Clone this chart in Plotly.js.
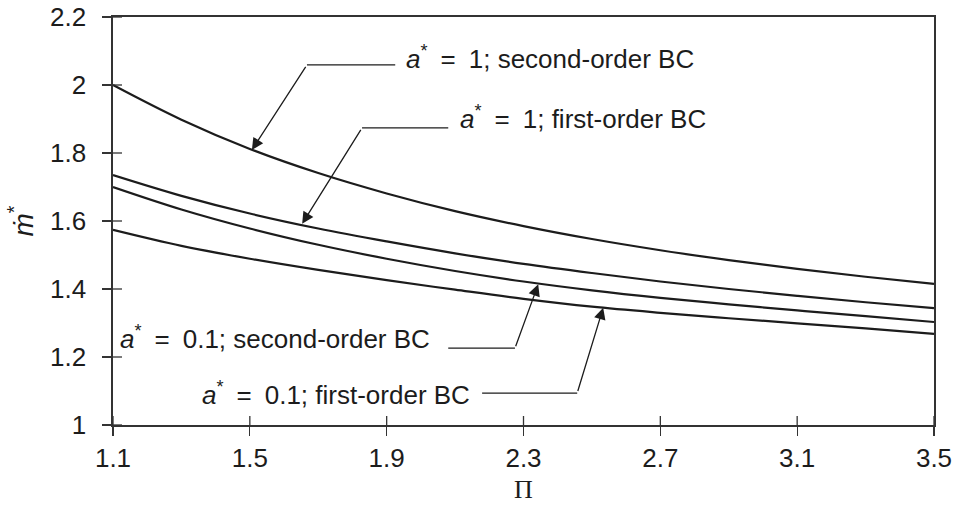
<!DOCTYPE html>
<html>
<head>
<meta charset="utf-8">
<script src="https://cdn.plot.ly/plotly-3.0.1.min.js"></script>
<style>
  html, body { margin: 0; padding: 0; background: #fff; }
  #chart { width: 956px; height: 506px; }
</style>
</head>
<body>
<div id="chart"></div>
<script>
// values
let piValues = [1.1, 1.3, 1.5, 1.7, 1.9, 2.1, 2.3, 2.5, 2.7, 2.9, 3.1, 3.3, 3.5];
let mA1Second = [2.000, 1.898, 1.812, 1.741, 1.681, 1.629, 1.585, 1.547, 1.514, 1.485, 1.459, 1.436, 1.415];
let mA1First = [1.735, 1.674, 1.622, 1.578, 1.540, 1.505, 1.474, 1.447, 1.422, 1.400, 1.380, 1.361, 1.344];
let mA01Second = [1.700, 1.634, 1.578, 1.530, 1.489, 1.453, 1.422, 1.396, 1.374, 1.355, 1.337, 1.320, 1.303];
let mA01First = [1.574, 1.527, 1.489, 1.456, 1.426, 1.398, 1.371, 1.348, 1.330, 1.314, 1.299, 1.284, 1.268];

let xTicks = [1.1, 1.5, 1.9, 2.3, 2.7, 3.1, 3.5];
let yTicks = [1, 1.2, 1.4, 1.6, 1.8, 2, 2.2];
let yTickText = ["1", "1.2", "1.4", "1.6", "1.8", "2", "2.2"];

let sp = "\u2002";
let labels = [
    "<i>a</i><sup>*</sup>" + sp + "=" + sp + "1; second-order BC",
    "<i>a</i><sup>*</sup>" + sp + "=" + sp + "1; first-order BC",
    "<i>a</i><sup>*</sup>" + sp + "=" + sp + "0.1; second-order BC",
    "<i>a</i><sup>*</sup>" + sp + "=" + sp + "0.1; first-order BC"
];

let font = "Liberation Sans, Arial, Helvetica, sans-serif";
let ink = "#1c1c1c";
let axisInk = "#333";

function curve(y) {
    return {
        x: piValues,
        y: y,
        type: "scatter",
        mode: "lines",
        line: {color: ink, width: 2.2, shape: "spline", smoothing: 1},
        hoverinfo: "skip",
        showlegend: false
    };
}

let traces = [curve(mA1Second), curve(mA1First), curve(mA01Second), curve(mA01First)];

// leader lines: text anchor, bend point, elbow end, arrow tip (on the curve)
let leaders = [
    {tx: 1.951, ty: 2.082, hx0: 1.667, hx1: 1.925, hy: 2.059, tipX: 1.506, tipY: 1.809},
    {tx: 2.109, ty: 1.903, hx0: 1.828, hx1: 2.080, hy: 1.874, tipX: 1.653, tipY: 1.592},
    {tx: 1.115, ty: 1.256, hx0: 2.275, hx1: 2.080, hy: 1.226, tipX: 2.343, tipY: 1.414},
    {tx: 1.354, ty: 1.094, hx0: 2.457, hx1: 2.179, hy: 1.094, tipX: 2.533, tipY: 1.345}
];

let annotations = [];
let shapes = [];
for (let i = 0; i < leaders.length; i++) {
    let l = leaders[i];
    annotations.push({
        x: l.tx, y: l.ty, xref: "x", yref: "y",
        text: labels[i], showarrow: false,
        xanchor: "left", yanchor: "middle",
        font: {family: font, size: 26, color: ink}
    });
    annotations.push({
        x: l.tipX, y: l.tipY, xref: "x", yref: "y",
        ax: l.hx0, ay: l.hy, axref: "x", ayref: "y",
        text: " ", font: {size: 1},
        showarrow: true, arrowhead: 2, arrowsize: 1.8, arrowwidth: 1.3,
        arrowcolor: ink, standoff: 0, startstandoff: 0
    });
    shapes.push({
        type: "line", xref: "x", yref: "y",
        x0: l.hx0, x1: l.hx1, y0: l.hy, y1: l.hy,
        line: {color: ink, width: 1.3}
    });
}

// inner half of the crossing tick marks (the axis draws the outer half)
let innerLen = 9;
xTicks.forEach(function (v) {
    shapes.push({
        type: "line", xref: "x", yref: "y",
        ysizemode: "pixel", yanchor: yTicks[0],
        x0: v, x1: v, y0: 0, y1: innerLen,
        line: {color: axisInk, width: 1.3}
    });
});
yTicks.forEach(function (v) {
    shapes.push({
        type: "line", xref: "x", yref: "y",
        xsizemode: "pixel", xanchor: xTicks[0],
        x0: 0, x1: innerLen, y0: v, y1: v,
        line: {color: axisInk, width: 1.3}
    });
});

let layout = {
    width: 956,
    height: 506,
    margin: {l: 113, r: 22, t: 17, b: 81},
    paper_bgcolor: "#fff",
    plot_bgcolor: "#fff",
    showlegend: false,
    font: {family: font, size: 26, color: ink},
    xaxis: {
        range: [1.1, 3.5],
        tickvals: xTicks,
        ticktext: xTicks.map(v => v.toFixed(1)),
        ticks: "outside", ticklen: 9, tickwidth: 1.3, tickcolor: axisInk,
        showline: true, linecolor: axisInk, linewidth: 1.6, mirror: true,
        showgrid: false, zeroline: false,
        tickfont: {family: font, size: 26, color: ink},
        title: {text: "Π", font: {family: "Liberation Serif, Times New Roman, serif", size: 26, color: ink}, standoff: 8}
    },
    yaxis: {
        range: [1, 2.2],
        tickvals: yTicks,
        ticktext: yTickText,
        ticks: "outside", ticklen: 9, tickwidth: 1.3, tickcolor: axisInk,
        ticklabelstandoff: 11,
        showline: true, linecolor: axisInk, linewidth: 1.6, mirror: true,
        showgrid: false, zeroline: false,
        tickfont: {family: font, size: 26, color: ink},
        title: {text: "<i>ṁ</i><sup>*</sup>", font: {family: font, size: 28, color: ink}, standoff: 8}
    },
    annotations: annotations,
    shapes: shapes
};

Plotly.newPlot("chart", traces, layout, {displayModeBar: false, staticPlot: true});
</script>
</body>
</html>
